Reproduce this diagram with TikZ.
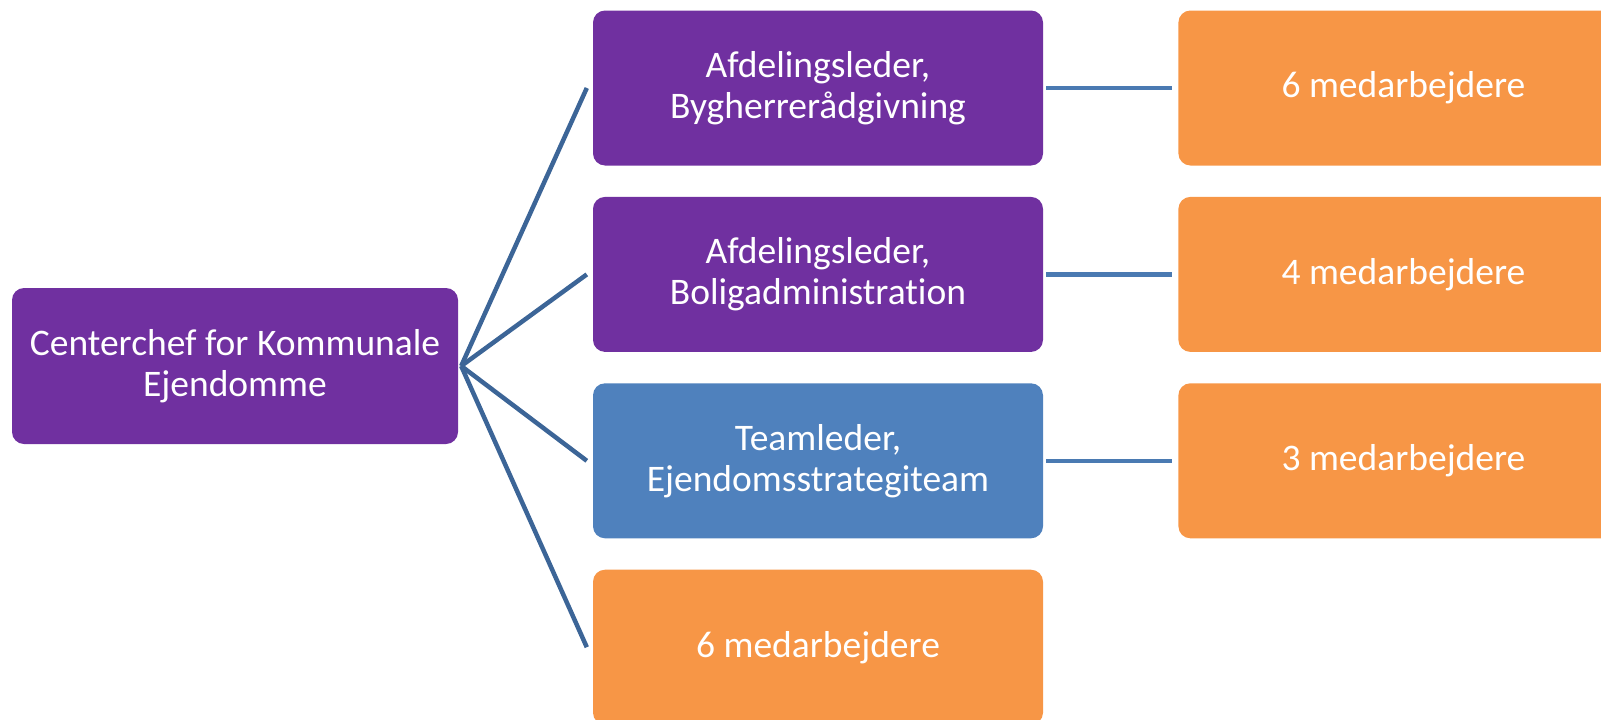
\documentclass[tikz,border=0pt]{standalone}
\usepackage{fontspec}
\setmainfont[Ligatures = NoCommon]{Carlito}
\usetikzlibrary{positioning}

\definecolor{lilla}{RGB}{112,48,160}
\definecolor{blaa}{RGB}{79,129,189}
\definecolor{orange}{RGB}{247,150,70}
\definecolor{linjeA}{RGB}{60,101,151}
\definecolor{linjeB}{RGB}{74,122,178}

\begin{document}
\begin{tikzpicture}[x = 1pt, y = -1pt,
	boks/.style = {rectangle, rounded corners = 12pt, text = white, align = center, inner sep = 0pt, minimum width = 450pt, minimum height = 155pt, font = \fontsize{37.5}{41}\selectfont},
	vifte/.style = {draw = linjeA, line width = 4.5pt},
	tvaer/.style = {draw = linjeB, line width = 4.5pt}]%organisation
	\useasboundingbox (0,0) rectangle (1601,720);
	\node[boks, fill = lilla, minimum width = 446pt, minimum height = 156pt] (CK) at (235,366) {Centerchef for Kommunale\\Ejendomme};
	\node[boks, fill = lilla] (A1) at (818,88) {Afdelingsleder,\\Bygherrerådgivning};
	\node[boks, fill = lilla, below = 31pt of A1] (A2) {Afdelingsleder,\\Boligadministration};
	\node[boks, fill = blaa, below = 31pt of A2] (T1) {Teamleder,\\Ejendomsstrategiteam};
	\node[boks, fill = orange, below = 31pt of T1] (M1) {6 medarbejdere};
	\node[boks, fill = orange, right = 135pt of A1] (M2) {6 medarbejdere};
	\node[boks, fill = orange, right = 135pt of A2] (M3) {4 medarbejdere};
	\node[boks, fill = orange, right = 135pt of T1] (M4) {3 medarbejdere};
	\coordinate (F) at ([xshift = 3pt]CK.east);
	\foreach \n in {A1, A2, T1, M1}
	\draw[vifte] (F) -- ([xshift = -6pt]\n.west);
	\foreach \a/\b in {A1/M2, A2/M3, T1/M4}
	\draw[tvaer] ([xshift = 3pt]\a.east) -- ([xshift = -6pt]\b.west);
\end{tikzpicture}
\end{document}
